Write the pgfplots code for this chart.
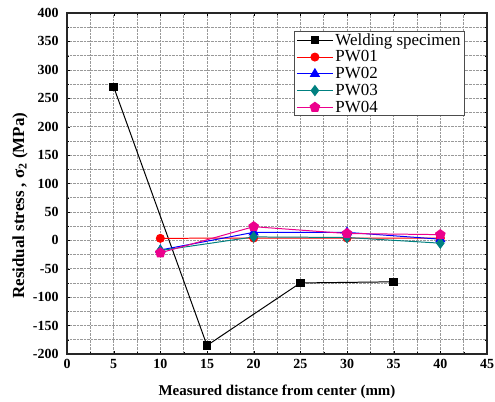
\documentclass[border=0pt]{standalone}
\usepackage{pgfplots}
\pgfplotsset{compat=1.18}
\usepackage{fontspec}
\setmainfont{Liberation Serif}
\usetikzlibrary{plotmarks,calc}
\definecolor{teal3}{RGB}{0,128,128}
\begin{document}
\begin{tikzpicture}
\begin{axis}[
  name=ax,
  scale only axis, width=420bp, height=341bp,
  xmin=0, xmax=45, ymin=-200, ymax=400,
  xtick={0,5,...,45}, ytick={-200,-150,...,400},
  xticklabels={\textbf{0},\textbf{5},\textbf{10},\textbf{15},\textbf{20},\textbf{25},\textbf{30},\textbf{35},\textbf{40},\textbf{45}},
  yticklabels={\textbf{-200},\textbf{-150},\textbf{-100},\textbf{-50},\textbf{0},\textbf{50},\textbf{100},\textbf{150},\textbf{200},\textbf{250},\textbf{300},\textbf{350},\textbf{400}},
  minor xtick={2.5,7.5,...,42.5}, minor ytick={-175,-125,...,375},
  grid=both,
  major grid style={densely dotted, gray!80, line width=0.6pt},
  minor grid style={densely dotted, gray!80, line width=0.6pt},
  axis line style={line width=1.1pt, black!85},
  tick style={black}, tick align=inside,
  major tick length=3pt, minor tick length=2pt,
  tick label style={font=\bfseries\fontsize{14}{16}\selectfont},
  yticklabel style={anchor=east, xshift=-5bp},
  xticklabel style={anchor=center, yshift=-10bp},
  xlabel={Measured distance from center (mm)},
  ylabel={Residual stress , σ\textsubscript{2} (MPa)},
  xlabel style={font=\bfseries\fontsize{15}{17}\selectfont, at={(axis description cs:0.5,-0.112)}, anchor=center},
  ylabel style={font=\bfseries\fontsize{17}{19}\selectfont, at={(axis description cs:-0.112,0.435)}, anchor=center},
  legend style={at={(0.5405,0.947)}, anchor=north west, draw=black!70, line width=0.8pt,
    font=\fontsize{17}{20}\selectfont, row sep=0pt, inner xsep=2pt, inner ysep=0pt,
    fill=white, cells={anchor=west}},
  legend image code/.code={\draw[#1] (0bp,0bp) -- (36bp,0bp); \draw[#1, only marks] plot coordinates {(18bp,0bp)};},
]
\addplot[black, line width=1pt, mark=square*, mark size=3.8pt, mark options={solid}] coordinates {(5,270) (15,-185) (25,-75) (35,-73)};
\addlegendentry{Welding specimen}
\addplot[red, line width=1pt, mark=*, mark size=4pt] coordinates {(10,3.5) (20,4) (30,4) (40,4)};
\addlegendentry{PW01}
\addplot[blue, line width=1pt, mark=triangle*, mark size=5pt] coordinates {(10,-17) (20,14) (30,14) (40,2)};
\addlegendentry{PW02}
\addplot[teal3, line width=1pt, mark=diamond*, mark size=5pt] coordinates {(10,-18) (20,6) (30,5) (40,-5)};
\addlegendentry{PW03}
\addplot[magenta, line width=1pt, mark=pentagon*, mark size=5pt] coordinates {(10,-22) (20,24) (30,12) (40,10)};
\addlegendentry{PW04}
\end{axis}
\pgfresetboundingbox
\path ($(ax.south west)+(-67bp,-48bp)$) rectangle ($(ax.north east)+(8bp,13bp)$);
\end{tikzpicture}
\end{document}
